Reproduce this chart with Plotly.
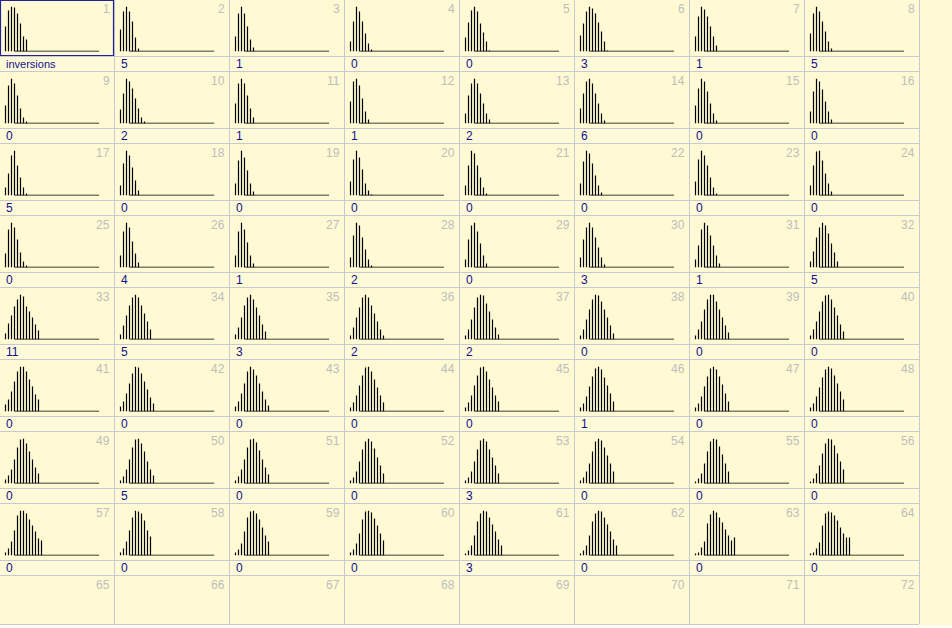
import plotly.graph_objects as go

# ---------------- data ----------------
CELL_NUMBERS = list(range(1, 73))
LABELS = [
    "inversions", "5", "1", "0", "0", "3", "1", "5",
    "0", "2", "1", "1", "2", "6", "0", "0",
    "5", "0", "0", "0", "0", "0", "0", "0",
    "0", "4", "1", "2", "0", "3", "1", "5",
    "11", "5", "3", "2", "2", "0", "0", "0",
    "0", "0", "0", "0", "0", "1", "0", "0",
    "0", "5", "0", "0", "3", "0", "0", "0",
    "0", "0", "0", "0", "3", "0", "0", "0",
]
HIST = [
    # row 1
    [25, 41, 45, 44, 38, 28, 15, 12],
    [22, 40, 45, 40, 30, 14, 3],
    [15, 38, 45, 38, 25, 12, 4],
    [10, 30, 45, 40, 30, 18, 8, 2],
    [14, 29, 41, 45, 40, 28, 19, 10, 1],
    [16, 28, 40, 45, 43, 38, 29, 20, 10, 1],
    [15, 35, 45, 42, 35, 25, 15, 6],
    [18, 38, 45, 40, 30, 20, 10, 3],
    # row 2
    [18, 38, 45, 40, 28, 15, 6, 2],
    [14, 30, 45, 42, 35, 25, 15, 6, 2],
    [20, 40, 45, 40, 28, 15, 6],
    [22, 42, 45, 38, 25, 12, 4],
    [10, 28, 40, 45, 40, 30, 20, 10, 4],
    [15, 30, 42, 45, 40, 30, 20, 10, 3],
    [18, 35, 45, 42, 32, 20, 10, 3],
    [12, 32, 45, 42, 34, 22, 12, 4],
    # row 3
    [8, 22, 40, 45, 30, 18, 8, 2],
    [10, 32, 45, 40, 28, 15, 5],
    [12, 35, 45, 38, 25, 12, 4],
    [14, 36, 45, 38, 26, 12, 5, 1],
    [10, 30, 45, 42, 30, 18, 8, 2],
    [12, 34, 45, 42, 32, 20, 10, 3],
    [14, 36, 45, 40, 30, 18, 8, 2],
    [10, 30, 44, 45, 35, 22, 12, 4],
    # row 4
    [14, 38, 45, 40, 28, 15, 6, 2],
    [12, 36, 45, 40, 26, 14, 5],
    [12, 36, 45, 38, 25, 12, 4],
    [10, 32, 45, 42, 30, 18, 8, 2],
    [8, 28, 42, 45, 36, 24, 12, 4],
    [10, 28, 40, 45, 40, 30, 20, 10, 3],
    [8, 22, 38, 45, 42, 32, 22, 12, 4],
    [6, 16, 30, 40, 45, 42, 34, 24, 15, 6],
    # row 5
    [6, 16, 24, 33, 40, 45, 43, 33, 28, 22, 15, 9],
    [5, 14, 24, 34, 42, 45, 42, 34, 26, 18, 10],
    [5, 12, 22, 34, 42, 45, 40, 32, 24, 15, 8],
    [4, 12, 22, 32, 42, 45, 42, 34, 26, 18, 10, 4],
    [4, 10, 20, 32, 42, 45, 44, 36, 28, 20, 12, 5],
    [4, 10, 20, 30, 40, 45, 44, 38, 30, 22, 14, 6],
    [4, 10, 18, 30, 40, 45, 45, 38, 30, 22, 14, 7],
    [4, 10, 18, 28, 38, 44, 45, 40, 32, 24, 15, 8],
    # row 6
    [7, 12, 20, 30, 40, 45, 45, 40, 32, 25, 17, 12],
    [5, 10, 18, 28, 38, 45, 44, 38, 30, 22, 14, 8],
    [5, 10, 18, 28, 40, 45, 42, 36, 28, 20, 12, 6],
    [4, 9, 16, 26, 36, 44, 45, 40, 32, 24, 16, 9],
    [4, 9, 16, 26, 36, 44, 45, 40, 32, 24, 16, 10],
    [4, 8, 15, 25, 35, 43, 45, 42, 34, 26, 18, 10],
    [4, 8, 15, 25, 35, 43, 45, 42, 35, 27, 18, 10],
    [4, 8, 15, 24, 34, 42, 45, 43, 36, 28, 20, 12],
    # row 7
    [4, 8, 14, 24, 36, 44, 45, 40, 32, 24, 16, 10],
    [3, 7, 14, 24, 36, 44, 45, 40, 32, 22, 14, 8],
    [3, 7, 14, 24, 36, 44, 45, 41, 33, 24, 16, 9],
    [3, 6, 12, 22, 34, 42, 45, 42, 35, 26, 18, 10],
    [3, 6, 12, 22, 34, 43, 45, 42, 34, 26, 18, 10],
    [3, 6, 12, 20, 32, 42, 45, 43, 36, 28, 20, 12],
    [2, 5, 10, 20, 32, 42, 45, 44, 37, 29, 20, 12],
    [2, 5, 10, 18, 30, 40, 45, 44, 38, 30, 22, 14],
    # row 8
    [3, 7, 14, 25, 40, 45, 45, 42, 36, 30, 24, 17, 15],
    [3, 7, 14, 25, 38, 45, 44, 42, 35, 25, 19],
    [3, 6, 12, 24, 38, 44, 45, 42, 36, 28, 20, 14],
    [3, 6, 12, 22, 36, 44, 45, 43, 37, 30, 22, 15],
    [2, 5, 10, 20, 34, 42, 45, 44, 38, 31, 24, 16, 10],
    [2, 5, 10, 20, 34, 42, 45, 44, 38, 31, 24, 16, 10],
    [2, 3, 8, 14, 32, 41, 45, 43, 38, 33, 26, 20, 15, 18],
    [2, 3, 7, 13, 30, 42, 44, 43, 40, 35, 28, 22, 18, 18],
]
AXIS_FROM = 3      # baseline start (bin index)
AXIS_TO = 31.2     # baseline end (bin index)
Y_MAX = 45

# ---------------- layout constants ----------------
W, H = 952, 628
COLS, ROWS = 8, 9
CW, RH = 115, 72
PLOT_H = 56
BG = "#FFFAD3"
BAND = "#FFFBD9"
GRID = "#C6C8D2"

def px(x):
    return x / W

def py(y):
    return 1 - y / H

fig = go.Figure()
layout = {}
shapes = []
annotations = []

# background for label bands
for r in range(ROWS - 1):
    top = r * RH
    shapes.append(dict(type="rect", xref="paper", yref="paper", layer="below",
                       x0=px(0), x1=px(COLS * CW - 1), y0=py(top + PLOT_H + 1), y1=py(top + RH - 1),
                       fillcolor=BAND, line=dict(width=0)))

for i, hist in enumerate(HIST):
    r, c = divmod(i, COLS)
    left, top = c * CW, r * RH
    n = i + 1
    xa = "xaxis" if n == 1 else f"xaxis{n}"
    ya = "yaxis" if n == 1 else f"yaxis{n}"
    xr = "x" if n == 1 else f"x{n}"
    yr = "y" if n == 1 else f"y{n}"
    xs, ys = [], []
    for k, h in enumerate(hist):
        xs += [k, k, None]
        ys += [0, h, None]
    fig.add_trace(go.Scatter(x=xs, y=ys, mode="lines", xaxis=xr, yaxis=yr,
                             line=dict(color="black", width=1.2), hoverinfo="skip",
                             showlegend=False))
    fig.add_trace(go.Scatter(x=[AXIS_FROM, AXIS_TO], y=[0, 0], mode="lines", xaxis=xr, yaxis=yr,
                             line=dict(color="black", width=1.3), hoverinfo="skip",
                             showlegend=False))
    layout[xa] = dict(domain=[px(left), px(left + CW)], range=[-5.5 / 3, (CW - 5.5) / 3],
                      visible=False, fixedrange=True, anchor=yr)
    layout[ya] = dict(domain=[py(top + 51.5), py(top + 51.5 - Y_MAX)], range=[0, Y_MAX],
                      visible=False, fixedrange=True, anchor=xr)

# cell numbers and labels
for i, num in enumerate(CELL_NUMBERS):
    r, c = divmod(i, COLS)
    left, top = c * CW, r * RH
    annotations.append(dict(x=px(left + 112), y=py(top + 9), xref="paper", yref="paper",
                            text=str(num), showarrow=False, xanchor="right", yanchor="middle",
                            font=dict(family="Liberation Sans, Arial", size=12, color="#BDBDBD")))
    if i < len(LABELS):
        annotations.append(dict(x=px(left + 4), y=py(top + 64), xref="paper", yref="paper",
                                text=LABELS[i], showarrow=False, xanchor="left", yanchor="middle",
                                font=dict(family="Liberation Sans, Arial", size=12 if i else 11,
                                          color="#10108C")))

# grid lines
for c in range(1, COLS + 1):
    x = c * CW - 0.5
    shapes.append(dict(type="line", xref="paper", yref="paper", x0=px(x), x1=px(x),
                       y0=py(0), y1=py(624), line=dict(color=GRID, width=1)))
for r in range(ROWS - 1):
    top = r * RH
    for y in (top + PLOT_H + 0.5, top + RH - 0.5):
        shapes.append(dict(type="line", xref="paper", yref="paper", x0=px(0), x1=px(COLS * CW - 1),
                           y0=py(y), y1=py(y), line=dict(color=GRID, width=1)))
shapes.append(dict(type="line", xref="paper", yref="paper", x0=px(0), x1=px(COLS * CW - 1),
                   y0=py(624.5), y1=py(624.5), line=dict(color=GRID, width=1)))
# bottom strip
shapes.append(dict(type="rect", xref="paper", yref="paper", layer="below",
                   x0=0, x1=1, y0=0, y1=py(625), fillcolor="#FFFDF0", line=dict(width=0)))
# selected cell border
shapes.append(dict(type="rect", xref="paper", yref="paper",
                   x0=px(0.5), x1=px(113.5), y0=py(0.5), y1=py(55.5),
                   line=dict(color="#22229A", width=1.2)))

fig.update_layout(width=W, height=H, margin=dict(l=0, r=0, t=0, b=0),
                  paper_bgcolor=BG, plot_bgcolor="rgba(0,0,0,0)",
                  shapes=shapes, annotations=annotations, showlegend=False, **layout)
fig.write_html("out.html", config={"displayModeBar": False})
